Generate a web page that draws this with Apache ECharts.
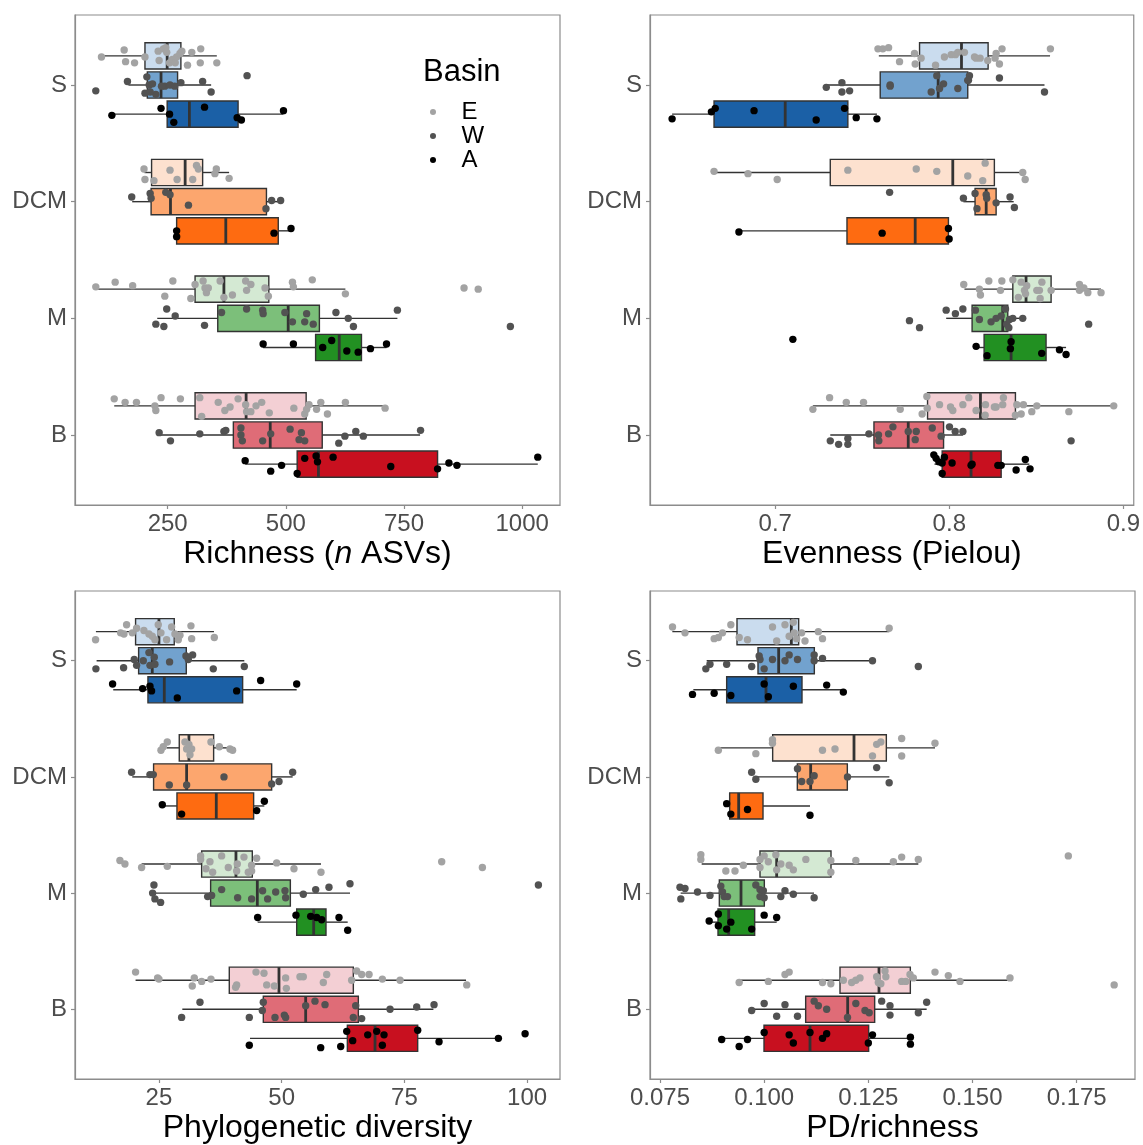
<!DOCTYPE html>
<html>
<head>
<meta charset="utf-8">
<script src="https://cdn.jsdelivr.net/npm/echarts@6/dist/echarts.min.js"></script>
<style>html,body{margin:0;padding:0;background:#fff}#chart{width:1143px;height:1145px}</style>
</head>
<body>
<div id="chart"></div>
<script>
// ---------- categories ----------
const depths = ['S', 'DCM', 'M', 'B'];
const basins = ['E', 'W', 'A'];

// ---------- tick labels ----------
const richnessTicks = [250, 500, 750, 1000];
const evennessTicks = [0.7, 0.8, 0.9];
const pdTicks = [25, 50, 75, 100];
const pdrTicks = [0.075, 0.100, 0.125, 0.150, 0.175];

// ---------- box statistics: [q1, median, q3, whiskerLow, whiskerHigh]; order S-E,S-W,S-A,DCM-E,...,B-A ----------
const richnessBoxes = [
  [202,249,278,116,354],[207,236,271,167,342],[249,296,399,132,495],
  [216,287,324,201,380],[215,256,459,175,489],[269,373,484,269,511],
  [308,369,464,103,626],[356,505,571,228,736],[563,613,660,452,713],
  [308,416,543,137,710],[389,467,577,232,784],[524,569,821,414,1033]
];
const evennessBoxes = [
  [0.7829,0.8070,0.8223,0.7595,0.8579],[0.7603,0.7936,0.8106,0.7293,0.8547],[0.6648,0.7057,0.7417,0.6407,0.7584],
  [0.7316,0.8020,0.8259,0.6648,0.8422],[0.8148,0.8212,0.8269,0.8081,0.8370],[0.7412,0.7804,0.7995,0.6791,0.7995],
  [0.8365,0.8441,0.8585,0.8087,0.8872],[0.8131,0.8307,0.8336,0.7982,0.8422],[0.8200,0.8355,0.8556,0.8154,0.8671],
  [0.7875,0.8179,0.8380,0.7216,0.8945],[0.7567,0.7764,0.7967,0.7316,0.8078],[0.7959,0.8125,0.8298,0.7915,0.8460]
];
const pdBoxes = [
  [20.24,25.0,28.12,12.16,36.21],[20.86,23.64,30.57,12.30,42.39],[22.76,26.09,42.05,15.69,53.06],
  [29.14,31.11,36.14,26.56,40.49],[23.91,30.64,47.96,19.57,52.24],[28.67,36.68,44.29,25.68,46.47],
  [33.70,40.69,44.02,21.47,58.01],[35.53,45.04,51.77,23.98,63.92],[53.06,56.52,59.03,45.11,63.45],
  [39.33,49.45,64.60,20.24,87.56],[46.26,54.89,65.62,29.76,80.91],[63.38,69.02,77.71,43.55,94.15]
];
const pdrBoxes = [
  [0.09348,0.10652,0.10828,0.07796,0.13004],[0.09852,0.10348,0.11204,0.0862,0.12604],[0.0910,0.10044,0.10908,0.0830,0.1190],
  [0.10204,0.12156,0.12932,0.0890,0.1410],[0.10796,0.11116,0.11996,0.0978,0.13004],[0.09172,0.09388,0.09972,0.09172,0.1110],
  [0.0990,0.1030,0.11604,0.0850,0.1370],[0.08924,0.09444,0.10004,0.07996,0.11196],[0.08892,0.09148,0.09772,0.08684,0.1030],
  [0.1182,0.12756,0.13508,0.09396,0.1590],[0.10996,0.12004,0.12652,0.0970,0.1390],[0.09996,0.1110,0.12508,0.0898,0.13508]
];

const richnessPoints = [
  [[110,0.01],[158,-0.05],[161,0.05],[180,0.06],[202,0.01],[230,-0.04],[232,0.04],[241,-0.06],[246,-0.07],[248,-0.03],[254,0.06],[260,0.03],[266,0.06],[269,0.01],[276,-0.02],[280,-0.04],[292,0.08],[301,-0.03],[320,-0.06],[319,0.06],[354,0.06]],
  [[98,0.05],[165,-0.03],[206,-0.07],[211,0],[218,-0.01],[202,0.07],[225,0.08],[244,0.01],[255,0],[265,0.01],[278,-0.02],[324,-0.03],[342,0.06],[418,-0.08],[213,0.06],[237,0.01]],
  [[132,0.01],[236,-0.05],[254,0],[263,0.07],[328,-0.06],[397,0.03],[406,0.05],[495,-0.03]],
  [[200,-0.03],[202,0.06],[221,0.07],[255,-0.02],[270,0.06],[303,0.06],[311,-0.06],[315,-0.03],[353,-0.03],[350,0.01],[380,0.05]],
  [[174,-0.04],[213,-0.07],[215,-0.03],[246,-0.08],[255,-0.06],[294,0.03],[458,0.06],[470,-0.01],[489,-0.01]],
  [[269,0],[269,0.05],[475,0.02],[511,-0.02]],
  [[98,-0.02],[139,-0.06],[176,-0.03],[244,0.06],[261,-0.07],[299,0.08],[308,-0.04],[325,-0.07],[329,-0.01],[332,0.03],[336,-0.01],[361,-0.07],[369,0.07],[387,0.05],[415,-0.07],[417,0.01],[426,-0.04],[456,-0.01],[463,0.06],[514,-0.06],[516,-0.02],[556,-0.08],[626,0.04],[877,-0.01],[907,0]],
  [[225,0.05],[242,0.07],[248,-0.08],[266,-0.02],[328,0.06],[364,-0.05],[417,-0.08],[451,-0.07],[452,-0.04],[498,-0.05],[514,0.03],[540,0.03],[544,-0.04],[558,0.05],[606,-0.05],[632,0],[643,0.07],[736,-0.07],[975,0.07]],
  [[452,-0.03],[516,-0.03],[578,0],[597,-0.06],[629,0.03],[653,0.04],[679,0.01],[713,-0.03]],
  [[137,-0.06],[160,-0.03],[184,-0.03],[223,0],[225,0.04],[236,-0.07],[277,-0.06],[318,-0.07],[322,0.09],[357,-0.03],[371,0.04],[382,0.01],[399,-0.06],[415,-0.01],[417,0.05],[426,0.05],[437,0],[449,-0.03],[465,0.06],[517,0.02],[540,0.07],[544,0.03],[549,-0.01],[565,0.03],[574,-0.03],[588,0.07],[626,-0.03],[710,0.02]],
  [[232,-0.02],[256,0.05],[318,-0.01],[369,-0.03],[373,-0.04],[405,-0.06],[405,0],[408,0.05],[451,0.05],[468,-0.01],[509,-0.05],[528,0.04],[533,-0.02],[540,0.05],[612,0.07],[625,0.01],[648,-0.03],[664,0.01],[785,-0.04]],
  [[414,-0.03],[468,0.06],[491,0.01],[524,0.08],[540,-0.05],[564,-0.07],[567,-0.02],[600,-0.06],[722,0.02],[821,0.04],[845,-0.01],[862,0.01],[1033,-0.06]]
];
const evennessPoints = [
  [[0.7590,-0.06],[0.7618,-0.06],[0.7651,-0.07],[0.7714,0.05],[0.7800,-0.02],[0.7804,0.07],[0.7838,0.02],[0.7921,0.08],[0.7972,0.01],[0.8011,-0.01],[0.8035,-0.01],[0.8049,-0.03],[0.8087,-0.03],[0.8145,0.01],[0.8154,0.02],[0.8177,0.02],[0.8221,0.04],[0.8269,-0.02],[0.8263,0.02],[0.8288,0.07],[0.8303,-0.06],[0.8581,-0.06]],
  [[0.7293,0.02],[0.7383,-0.02],[0.7383,0.06],[0.7427,0.05],[0.7660,0],[0.7660,0.01],[0.7896,0.06],[0.7928,-0.08],[0.7944,0.03],[0.7967,-0.01],[0.8049,0.03],[0.8106,-0.04],[0.8116,-0.08],[0.8110,-0.04],[0.8288,-0.06],[0.8547,0.06]],
  [[0.6407,0.04],[0.6633,-0.02],[0.6655,-0.05],[0.6878,-0.03],[0.7235,0.05],[0.7398,-0.05],[0.7465,0.03],[0.7584,0.04]],
  [[0.6648,-0.01],[0.6843,0.01],[0.7011,0.06],[0.7417,-0.02],[0.7810,-0.03],[0.7928,-0.01],[0.8106,0.03],[0.8192,0.07],[0.8206,-0.08],[0.8422,0],[0.8436,0.06]],
  [[0.7657,-0.08],[0.8081,-0.03],[0.8148,-0.07],[0.8159,0.06],[0.8212,-0.06],[0.8215,-0.03],[0.8269,0.01],[0.8349,-0.04],[0.8374,0.05]],
  [[0.6791,0.01],[0.7614,0.02],[0.7995,-0.02],[0.7999,0.07]],
  [[0.8083,-0.04],[0.8173,0],[0.8179,0.05],[0.8227,-0.07],[0.8294,0.01],[0.8302,-0.07],[0.8365,-0.08],[0.8397,0.07],[0.8413,-0.06],[0.8432,0.01],[0.8445,-0.03],[0.8438,0.04],[0.8503,0.01],[0.8518,0.01],[0.8532,-0.06],[0.8522,0.08],[0.8585,0.01],[0.8748,-0.04],[0.8748,0.01],[0.8773,-0.01],[0.8796,0.03],[0.8872,0.03]],
  [[0.7771,0.02],[0.7829,0.08],[0.7982,-0.07],[0.8035,-0.04],[0.8078,-0.08],[0.8150,-0.07],[0.8173,0.01],[0.8240,0.03],[0.8269,0],[0.8298,-0.02],[0.8323,-0.08],[0.8330,0.05],[0.8346,0.01],[0.8365,0],[0.8342,0.08],[0.8422,0],[0.8801,0.05]],
  [[0.7101,-0.07],[0.8154,-0.01],[0.8217,0.07],[0.8355,-0.05],[0.8351,0.01],[0.8531,0.05],[0.8633,0.02],[0.8671,0.06]],
  [[0.7216,0.03],[0.7312,-0.07],[0.7408,-0.03],[0.7507,-0.03],[0.7718,0.03],[0.7844,0.07],[0.7873,0.02],[0.7871,-0.08],[0.7944,-0.01],[0.8007,0.01],[0.8020,0.04],[0.8078,-0.01],[0.8112,-0.07],[0.8154,0.04],[0.8208,-0.01],[0.8206,0.08],[0.8259,0.01],[0.8269,0.01],[0.8311,-0.07],[0.8307,-0.01],[0.8380,0.08],[0.8388,-0.01],[0.8413,0.07],[0.8426,-0.01],[0.8474,0.05],[0.8503,0],[0.8687,0.05],[0.8945,0]],
  [[0.7316,0.05],[0.7364,0.08],[0.7417,0.03],[0.7417,0.08],[0.7538,-0.01],[0.7593,0],[0.7595,0.05],[0.7651,-0.01],[0.7676,-0.07],[0.7764,-0.03],[0.7810,-0.03],[0.7804,0.04],[0.7902,-0.06],[0.7953,0.01],[0.8001,-0.07],[0.8034,-0.03],[0.8078,-0.03],[0.8700,0.05]],
  [[0.7911,-0.08],[0.7924,-0.05],[0.7940,-0.02],[0.7959,-0.01],[0.7972,-0.06],[0.7959,0.08],[0.8016,-0.01],[0.8125,0.01],[0.8131,0],[0.8279,0.01],[0.8298,0.01],[0.8384,0.05],[0.8437,-0.04],[0.8464,0.04]]
];
const pdPoints = [
  [[12.09,0.07],[17.19,0.01],[17.87,0.02],[18.41,-0.06],[19.57,0.01],[20.45,-0.03],[21.94,-0.01],[22.96,0.02],[23.64,0.04],[24.18,0.07],[24.86,-0.06],[25.41,0.01],[26.56,0.07],[27.58,-0.04],[28.26,0.02],[28.94,0.07],[29.28,0.03],[31.52,-0.05],[31.66,0.06],[36.28,0.05]],
  [[12.16,0.07],[17.80,0.06],[19.97,-0.01],[20.45,0.04],[21.81,0],[22.96,-0.07],[23.17,0.04],[24.05,-0.03],[24.18,0.03],[27.17,0.01],[30.50,-0.04],[30.98,-0.01],[31.86,-0.05],[36.07,0.07],[42.39,0.05]],
  [[15.56,-0.05],[21.67,-0.01],[23.17,-0.03],[23.50,0.01],[28.74,0.07],[40.83,0.01],[45.72,-0.08],[53.06,-0.05]],
  [[25.41,0.02],[25.88,-0.01],[26.70,-0.05],[30.30,-0.05],[30.64,0.01],[31.11,-0.03],[31.32,0.06],[31.66,0.01],[35.60,-0.05],[37.30,-0.01],[39.47,0.01],[40.01,0.02]],
  [[19.43,-0.04],[23.17,-0.02],[23.85,-0.02],[27.11,0.07],[30.64,0.07],[38.25,0],[47.96,0.06],[49.46,0.04],[52.24,-0.04]],
  [[25.68,-0.01],[29.62,0.07],[44.91,0.04],[46.47,-0.04]],
  [[17.05,-0.03],[18.07,0],[21.47,0.03],[26.70,0.02],[33.49,-0.07],[33.49,-0.04],[35.39,-0.02],[34.58,0.04],[35.94,0.07],[37.77,-0.07],[39.13,0.03],[40.96,0],[40.83,0.06],[42.32,-0.06],[43.20,0.07],[43.88,0.01],[43.88,0.06],[44.90,-0.05],[48.98,-0.01],[52.51,0.04],[58.01,0.07],[82.60,-0.02],[90.89,0.03]],
  [[23.98,-0.07],[23.71,0],[24.18,0.05],[25.34,0.08],[34.92,0.03],[35.73,0.02],[37.77,-0.03],[41.03,0.04],[43.88,0.05],[46.12,-0.02],[47.14,0.05],[48.78,-0.01],[50.68,-0.02],[50.81,0.04],[54.41,0.01],[56.93,-0.03],[59.64,-0.05],[63.92,-0.08],[102.3,-0.07]],
  [[45.11,-0.04],[52.92,-0.06],[55.91,-0.05],[57.13,-0.04],[58.15,-0.02],[61.68,-0.04],[63.45,0.07]],
  [[20.24,-0.07],[24.73,-0.02],[25.00,-0.01],[31.79,0.05],[32.20,-0.02],[33.70,0.01],[35.60,-0.01],[40.62,0.06],[40.83,0.04],[44.77,-0.07],[46.40,-0.06],[46.95,0.04],[48.50,0.05],[50.81,-0.02],[50.95,0.07],[53.73,-0.03],[54.41,-0.03],[58.49,0.02],[59.17,-0.05],[64.26,0],[65.28,-0.08],[66.30,-0.05],[67.80,-0.05],[70.51,-0.01],[74.12,0],[87.70,0.04]],
  [[29.62,0.07],[33.36,-0.06],[43.41,0.07],[46.06,0.01],[46.26,-0.06],[48.64,0.07],[50.54,0.05],[50.81,0.07],[54.89,-0.03],[56.79,-0.07],[58.83,-0.04],[64.60,0.07],[65.08,-0.03],[66.30,0.08],[72.08,0],[77.51,-0.02],[81.04,-0.04]],
  [[43.41,0.06],[57.95,0.08],[62.03,0.07],[63.25,-0.06],[64.47,0.02],[67.53,-0.03],[69.36,-0.06],[70.51,0.06],[70.85,-0.03],[77.71,-0.07],[82.06,0.03],[94.15,0],[99.59,-0.04]]
];
const pdrPoints = [
  [[0.0780,-0.04],[0.0810,0.01],[0.0880,0.06],[0.0890,0.05],[0.0900,0.01],[0.0920,-0.06],[0.0940,0.05],[0.0960,0.07],[0.1020,-0.04],[0.1030,0.08],[0.1050,-0.06],[0.1060,0.04],[0.1070,-0.08],[0.1072,0.01],[0.1078,0.06],[0.1090,0.01],[0.1098,0.08],[0.1130,0],[0.1140,0.06],[0.1300,-0.03]],
  [[0.0860,0.07],[0.0870,0.03],[0.0910,0.03],[0.0970,0.05],[0.0988,-0.04],[0.0990,-0.01],[0.1000,0.07],[0.1020,-0.01],[0.1050,0],[0.1060,-0.05],[0.1080,-0.01],[0.1120,-0.05],[0.1120,0],[0.1140,-0.02],[0.1260,0],[0.1370,0.05]],
  [[0.0828,0.04],[0.0880,0.03],[0.0920,0.05],[0.1000,-0.05],[0.1010,0.06],[0.1070,-0.03],[0.1150,-0.04],[0.1190,0.02]],
  [[0.0890,0.02],[0.0980,0.05],[0.1020,-0.07],[0.1020,-0.04],[0.1140,0.02],[0.1170,0.01],[0.1260,0.07],[0.1270,-0.03],[0.1280,-0.05],[0.1330,-0.08],[0.1330,0.07],[0.1410,-0.04]],
  [[0.0970,-0.04],[0.0980,0.02],[0.1080,-0.07],[0.1090,0.04],[0.1110,0.04],[0.1120,-0.01],[0.1200,0],[0.1270,-0.08],[0.1300,0.05]],
  [[0.0910,-0.02],[0.0920,0.07],[0.0960,0.03],[0.1110,0.08]],
  [[0.0848,-0.08],[0.0848,-0.04],[0.0908,0.06],[0.0930,0.06],[0.0950,0.01],[0.0990,-0.04],[0.0990,0.03],[0.1000,-0.07],[0.1010,-0.02],[0.1028,-0.08],[0.1030,0.05],[0.1040,0],[0.1060,0.01],[0.1070,0.05],[0.1100,-0.04],[0.1160,-0.03],[0.1160,0.07],[0.1220,-0.03],[0.1310,-0.02],[0.1330,-0.06],[0.1370,-0.04],[0.1730,-0.07]],
  [[0.0798,-0.05],[0.0810,-0.04],[0.0800,0.05],[0.0840,-0.01],[0.0870,0.02],[0.0896,-0.06],[0.0900,-0.01],[0.0904,0.03],[0.0912,0.03],[0.0980,-0.07],[0.0990,-0.03],[0.0998,-0.02],[0.0990,0.03],[0.1000,0.04],[0.1040,0.03],[0.1050,-0.02],[0.1070,0.01],[0.1120,0.04]],
  [[0.0868,-0.01],[0.0890,-0.07],[0.0890,0.03],[0.0910,0.06],[0.0920,0],[0.0970,0.06],[0.1000,-0.06],[0.1030,-0.04]],
  [[0.0940,0.02],[0.1010,0.01],[0.1050,-0.05],[0.1060,-0.07],[0.1140,0.02],[0.1160,0.03],[0.1190,0],[0.1210,0.02],[0.1220,0],[0.1230,-0.02],[0.1270,-0.03],[0.1274,0.02],[0.1280,0.03],[0.1290,-0.08],[0.1292,-0.03],[0.1330,0.01],[0.1340,0.01],[0.1350,-0.05],[0.1358,-0.02],[0.1410,-0.07],[0.1442,-0.04],[0.1470,0.01],[0.1590,-0.02],[0.1840,0.04]],
  [[0.0970,0.01],[0.1000,-0.05],[0.1030,0.06],[0.1050,-0.04],[0.1080,0.06],[0.1120,-0.07],[0.1130,-0.03],[0.1150,0],[0.1200,0.07],[0.1220,-0.05],[0.1242,0.01],[0.1252,0.03],[0.1282,-0.07],[0.1302,-0.03],[0.1302,0.05],[0.1370,0.03],[0.1390,-0.06]],
  [[0.0898,0.01],[0.0940,0.07],[0.0960,0.01],[0.1000,-0.05],[0.1060,-0.03],[0.1070,0.04],[0.1110,-0.05],[0.1140,0],[0.1150,-0.04],[0.1250,0.04],[0.1260,-0.03],[0.1351,-0.01],[0.1351,0.05]]
];

// ---------- styles ----------
const FONT = 'Liberation Sans, Arial, sans-serif';
const boxFills = [
  ['#cadcee', '#72a2ce', '#1b60a6'],
  ['#fde1cf', '#fca66e', '#fe6b11'],
  ['#d4e9d3', '#7cbf7a', '#229022'],
  ['#f3cfd4', '#df6c77', '#c8101f']
];
const pointColors = ['#a3a3a3', '#525252', '#000000'];
const frameColor = '#8c8c8c';
const HALF = 0.1125;   // half box thickness (category units)
const DODGE = 0.25;    // offset between basins

const panels = [
  {boxes: richnessBoxes, points: richnessPoints, ticks: richnessTicks, min: 54, max: 1080, dec: 0,
   name: '{a|Richness (}{i|n}{a| ASVs)}', left: 75, top: 15},
  {boxes: evennessBoxes, points: evennessPoints, ticks: evennessTicks, min: 0.628, max: 0.906, dec: 1,
   name: '{a|Evenness (Pielou)}', left: 650, top: 15},
  {boxes: pdBoxes, points: pdPoints, ticks: pdTicks, min: 7.9, max: 106.7, dec: 0,
   name: '{a|Phylogenetic diversity}', left: 75, top: 591},
  {boxes: pdrBoxes, points: pdrPoints, ticks: pdrTicks, min: 0.0726, max: 0.189, dec: 3,
   name: '{a|PD/richness}', left: 650, top: 591}
];

function yCenter(d, b) { return (depths.length - d) + DODGE - DODGE * b; }
function depthLabel(v) { const i = depths.length - Math.round(v); return depths[i] || ''; }

const grids = [], xAxes = [], yAxes = [], series = [];
panels.forEach((p, pi) => {
  grids.push({left: p.left, top: p.top, width: 485, height: 490, show: true,
              borderColor: frameColor, borderWidth: 1.2, backgroundColor: '#fff'});
  xAxes.push({
    gridIndex: pi, type: 'value', min: p.min, max: p.max,
    splitLine: {show: false},
    axisLine: {show: true, lineStyle: {color: frameColor, width: 1.2}},
    axisTick: {show: true, length: 4, customValues: p.ticks, lineStyle: {color: frameColor, width: 1.2}},
    axisLabel: {customValues: p.ticks, formatter: v => Number(v).toFixed(p.dec), fontSize: 24, color: '#4d4d4d',
                fontFamily: FONT, margin: 7},
    name: p.name, nameLocation: 'middle', nameGap: 33,
    nameTextStyle: {fontFamily: FONT, fontSize: 32, color: '#000',
      rich: {a: {fontFamily: FONT, fontSize: 32, color: '#000'},
             i: {fontFamily: FONT, fontSize: 32, color: '#000', fontStyle: 'italic'}}}
  });
  yAxes.push({
    gridIndex: pi, type: 'value', min: 0.4, max: 4.6,
    splitLine: {show: false},
    axisLine: {show: true, lineStyle: {color: frameColor, width: 1.2}},
    axisTick: {show: true, length: 4, customValues: [1, 2, 3, 4], lineStyle: {color: frameColor, width: 1.2}},
    axisLabel: {customValues: [1, 2, 3, 4], formatter: depthLabel, fontSize: 24, color: '#4d4d4d',
                fontFamily: FONT, margin: 8}
  });

  const boxData = p.boxes.map((r, i) => {
    const d = Math.floor(i / 3), b = i % 3;
    return [yCenter(d, b), r[0], r[1], r[2], r[3], r[4]];
  });
  series.push({
    type: 'custom', xAxisIndex: pi, yAxisIndex: pi, z: 2, silent: true,
    encode: {x: [1, 2, 3, 4, 5], y: 0},
    data: boxData,
    renderItem: (params, api) => {
      const i = params.dataIndex;
      const fill = boxFills[Math.floor(i / 3)][i % 3];
      const y = api.value(0), q1 = api.value(1), med = api.value(2), q3 = api.value(3),
            lo = api.value(4), hi = api.value(5);
      const tl = api.coord([q1, y + HALF]), br = api.coord([q3, y - HALF]);
      const a = api.coord([lo, y]), b1 = api.coord([q1, y]), c = api.coord([q3, y]), e = api.coord([hi, y]);
      const mt = api.coord([med, y + HALF]), mb = api.coord([med, y - HALF]);
      const ls = {stroke: '#333333', lineWidth: 1.4};
      return {type: 'group', children: [
        {type: 'line', shape: {x1: a[0], y1: a[1], x2: b1[0], y2: b1[1]}, style: ls},
        {type: 'line', shape: {x1: c[0], y1: c[1], x2: e[0], y2: e[1]}, style: ls},
        {type: 'rect', shape: {x: tl[0], y: tl[1], width: br[0] - tl[0], height: br[1] - tl[1]},
         style: {fill: fill, stroke: '#333333', lineWidth: 1.4}},
        {type: 'line', shape: {x1: mt[0], y1: mt[1], x2: mb[0], y2: mb[1]}, style: {stroke: '#333333', lineWidth: 2.8}}
      ]};
    }
  });

  basins.forEach((bn, b) => {
    const data = [];
    depths.forEach((dn, d) => {
      const yc = yCenter(d, b);
      p.points[d * 3 + b].forEach(pt => data.push([pt[0], yc - pt[1]]));
    });
    series.push({
      type: 'scatter', name: bn, xAxisIndex: pi, yAxisIndex: pi, z: 3, silent: true,
      symbol: 'circle', symbolSize: 7.4, itemStyle: {color: pointColors[b], opacity: 1},
      data: data
    });
  });
});

const chart = echarts.init(document.getElementById('chart'), null, {renderer: 'canvas'});
chart.setOption({
  animation: false,
  backgroundColor: '#fff',
  title: {text: 'Basin', left: 423, top: 57, padding: 0,
          textStyle: {fontFamily: FONT, fontSize: 31, fontWeight: 'normal', color: '#000'}},
  legend: {
    data: basins, orient: 'vertical', left: 430, top: 100, padding: 0,
    itemWidth: 7, itemHeight: 6, itemGap: 0, icon: 'circle', selectedMode: false,
    textStyle: {fontFamily: FONT, fontSize: 24, color: '#000', lineHeight: 24, padding: [0, 0, 0, 20]}
  },
  grid: grids, xAxis: xAxes, yAxis: yAxes, series: series
});
</script>
</body>
</html>
